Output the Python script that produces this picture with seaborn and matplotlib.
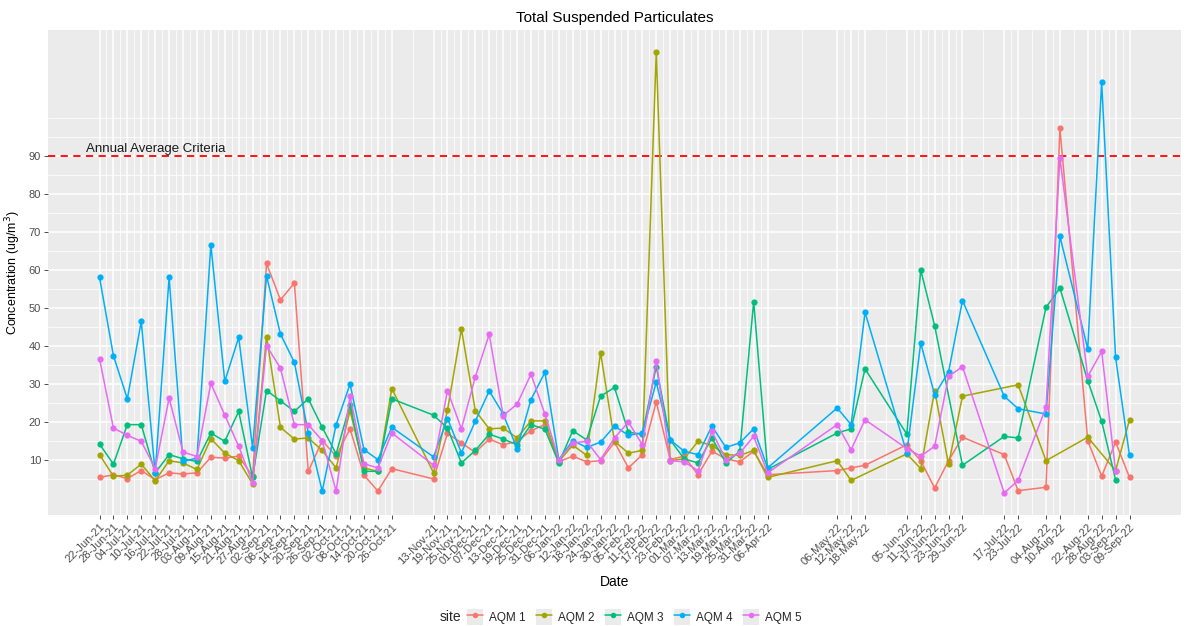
import matplotlib
matplotlib.use("Agg")
import matplotlib.pyplot as plt
from matplotlib.lines import Line2D
from matplotlib.patches import Patch
from matplotlib.legend_handler import HandlerTuple
import numpy as np
import pandas as pd
import seaborn as sns

# Sampling dates (1-in-6 day schedule, with gaps)
DATES = [
    "22-Jun-21", "28-Jun-21", "04-Jul-21", "10-Jul-21", "16-Jul-21", "22-Jul-21",
    "28-Jul-21", "03-Aug-21", "09-Aug-21", "15-Aug-21", "21-Aug-21", "27-Aug-21",
    "02-Sep-21", "08-Sep-21", "14-Sep-21", "20-Sep-21", "26-Sep-21", "02-Oct-21",
    "08-Oct-21", "14-Oct-21", "20-Oct-21", "26-Oct-21", "13-Nov-21", "19-Nov-21",
    "25-Nov-21", "01-Dec-21", "07-Dec-21", "13-Dec-21", "19-Dec-21", "25-Dec-21",
    "31-Dec-21", "06-Jan-22", "12-Jan-22", "18-Jan-22", "24-Jan-22", "30-Jan-22",
    "05-Feb-22", "11-Feb-22", "17-Feb-22", "23-Feb-22", "01-Mar-22", "07-Mar-22",
    "13-Mar-22", "19-Mar-22", "25-Mar-22", "31-Mar-22", "06-Apr-22", "06-May-22",
    "12-May-22", "18-May-22", "05-Jun-22", "11-Jun-22", "17-Jun-22", "23-Jun-22",
    "29-Jun-22", "17-Jul-22", "23-Jul-22", "04-Aug-22", "10-Aug-22", "22-Aug-22",
    "28-Aug-22", "03-Sep-22", "09-Sep-22",
]

AQM1 = [5.4, 6.1, 5.1, 7.2, 4.8, 6.6, 6.3, 6.6, 10.7, 10.5, 11.0, 5.7,
        61.8, 52.2, 56.6, 7.0, 15.1, 11.0, 18.2, 6.0, 1.8, 7.7, 5.0, 17.0,
        14.5, 12.0, 15.5, 14.0, 14.9, 17.7, 19.3, 9.5, 11.0, 9.5, 9.8, 14.7,
        7.9, 11.4, 25.3, 10.1, 11.0, 6.1, 12.3, 10.3, 9.5, 12.3, 6.1, 7.2,
        7.9, 8.6, 14.0, 9.8, 2.6, 9.8, 16.0, 11.4, 1.9, 2.8, 97.4, 15.1,
        5.7, 14.7, 5.4]
AQM2 = [11.4, 5.7, 6.0, 8.9, 4.5, 9.8, 9.2, 7.5, 15.6, 11.8, 9.8, 3.7,
        42.5, 18.6, 15.5, 15.8, 12.5, 7.9, 23.0, 7.9, 7.0, 28.8, 6.6, 23.1,
        44.5, 23.0, 18.2, 18.4, 15.8, 20.3, 20.3, 9.6, 13.9, 11.2, 38.3, 14.9,
        11.8, 12.5, 117.5, 9.8, 10.3, 14.9, 13.8, 11.4, 11.2, 12.5, 5.4, 9.8,
        4.6, None, 11.6, 7.7, 28.3, 8.8, 26.8, None, 29.8, 9.8, None, 16.0,
        None, 7.2, 20.6]
AQM3 = [14.2, 8.9, 19.3, 19.3, 6.6, 11.4, 10.3, 9.6, 17.1, 14.9, 22.8, 5.4,
        28.3, 25.6, 22.8, 26.1, 18.6, 11.6, 24.6, 7.0, 7.0, 26.1, 21.8, 18.4,
        9.2, 12.5, 16.8, 15.5, 14.0, 19.3, 18.1, 9.2, 17.7, 15.3, 26.8, 29.1,
        17.3, 16.8, 34.6, 15.3, 10.3, 9.2, 15.8, 9.2, 12.3, 51.7, 7.5, 17.1,
        18.2, 34.0, 16.8, 60.1, 45.4, None, 8.6, 16.2, 15.8, 50.2, 55.3, 30.9,
        20.2, 4.8, None]
AQM4 = [58.1, 37.5, 26.1, 46.5, 6.6, 58.1, 9.6, 10.5, 66.7, 30.7, 42.3, 13.2,
        58.5, 43.2, 35.7, 17.1, 1.8, 19.3, 30.0, 12.7, 10.1, 18.6, 10.8, 20.9,
        11.9, 20.2, 28.2, 22.1, 13.0, 25.9, 33.1, 10.1, 15.1, 13.3, 14.7, 18.9,
        16.5, 17.1, 30.5, 15.3, 12.3, 11.4, 18.9, 13.3, 14.5, 18.2, 7.9, 23.7,
        19.3, 48.9, 11.8, 40.8, 27.2, 33.2, 52.0, 26.8, 23.5, 22.1, 68.9, 39.3,
        109.5, 37.0, 11.2]
AQM5 = [36.7, 18.4, 16.5, 14.9, 7.7, 26.3, 12.1, 10.9, 30.2, 21.8, 13.6, 4.0,
        40.1, 34.2, 19.3, 19.3, 15.1, 1.8, 26.8, 9.0, 7.9, 17.1, 8.6, 28.3,
        18.2, 31.9, 43.1, 21.7, 24.7, 32.6, 22.1, 10.1, 14.5, 14.9, 10.1, 15.8,
        20.0, 14.0, 36.1, 9.8, 9.5, 7.2, 17.5, 10.1, 11.8, 16.2, 6.6, 19.3,
        12.7, 20.6, 13.0, 11.0, 13.6, 32.0, 34.6, 1.3, 4.6, 23.9, 89.6, 32.0,
        38.6, 7.0, None]

SITES = ["AQM 1", "AQM 2", "AQM 3", "AQM 4", "AQM 5"]
PALETTE = ["#F8766D", "#A3A500", "#00BF7D", "#00B0F6", "#E76BF3"]
CRITERIA = 90
CRITERIA_LABEL = "Annual Average Criteria"
Y_BREAKS = list(range(10, 100, 10))


def build_frame() -> pd.DataFrame:
    wide = pd.DataFrame(dict(zip(SITES, [AQM1, AQM2, AQM3, AQM4, AQM5])), dtype=float)
    wide["date"] = pd.to_datetime(DATES, format="%d-%b-%y")
    df = wide.melt(id_vars="date", var_name="site", value_name="tsp").dropna()
    return df


def main():
    df = build_frame()
    dates = pd.to_datetime(DATES, format="%d-%b-%y")

    sns.set_theme(style="darkgrid", rc={"axes.facecolor": "#EBEBEB"})
    plt.rcParams["font.family"] = ["Liberation Sans", "DejaVu Sans"]

    fig = plt.figure(figsize=(11.87, 6.26), dpi=100)
    W, H = 1187, 626
    ax = fig.add_axes([48 / W, 1 - 515 / H, (1181 - 48) / W, (515 - 30) / H])

    sns.lineplot(
        data=df, x="date", y="tsp", hue="site", hue_order=SITES,
        palette=PALETTE, marker="o", markersize=4.5, markeredgewidth=0,
        linewidth=1.1, estimator=None, legend=False, ax=ax, zorder=3,
    )

    # ggplot-like limits (5% expansion)
    x0, x1 = dates.min(), dates.max()
    pad = (x1 - x0) * 0.05
    ax.set_xlim(x0 - pad, x1 + pad)
    ymin, ymax = df["tsp"].min(), df["tsp"].max()
    ypad = (ymax - ymin) * 0.05
    ax.set_ylim(ymin - ypad, ymax + ypad)

    # grid: majors at sampling dates, minors halfway between
    ax.grid(False)
    mids = dates[:-1] + (dates[1:] - dates[:-1]) / 2
    for d in mids:
        ax.axvline(d, color="white", lw=0.55, zorder=0)
    for d in dates:
        ax.axvline(d, color="white", lw=1.1, zorder=0)
    for v in range(0, 101, 10):
        ax.axhline(v + 5 if v < 100 else v, color="white", lw=0.55, zorder=0)
    for v in Y_BREAKS:
        ax.axhline(v, color="white", lw=1.1, zorder=0)

    ax.axhline(CRITERIA, color="red", lw=1.3, ls=(0, (4, 3)), zorder=2)
    ax.text(dates[0] - pd.Timedelta(days=6), CRITERIA + 0.4, CRITERIA_LABEL,
            fontsize=9.5, color="#1a1a1a", ha="left", va="bottom")

    ax.set_xticks(dates)
    ax.set_xticklabels([d.strftime("%d-%b-%y") for d in dates], rotation=45,
                       ha="right", va="top", rotation_mode="anchor",
                       fontsize=8, color="#4D4D4D")
    ax.set_yticks(Y_BREAKS)
    ax.set_yticklabels([str(v) for v in Y_BREAKS], fontsize=8, color="#4D4D4D")
    ax.tick_params(axis="both", length=3, width=0.6, color="#333333", pad=2,
                   bottom=True, left=True)
    for s in ax.spines.values():
        s.set_visible(False)

    ax.set_xlabel("Date", fontsize=10, color="black", labelpad=6)
    ax.set_ylabel("Concentration (ug/m$^3$)", fontsize=9, color="black", labelpad=4)
    ax.set_title("Total Suspended Particulates", fontsize=11, color="black", pad=6)

    handles = [
        (Patch(facecolor="#EBEBEB", edgecolor="none"),
         Line2D([], [], color=c, marker="o", markersize=4, markeredgewidth=0, lw=1.1))
        for c in PALETTE
    ]
    fig.text(440 / W, 1 - 617 / H, "site", fontsize=10, ha="left", va="center")
    fig.legend(handles, SITES, handler_map={tuple: HandlerTuple(ndivide=1)},
               ncol=5, loc="center", bbox_to_anchor=(634 / W, 1 - 617 / H),
               frameon=False, fontsize=8.5, handlelength=1.4, handleheight=1.7,
               handletextpad=0.45, columnspacing=0.9, borderpad=0.2)

    fig.savefig("out.png", dpi=100)
    plt.close("all")


if __name__ == "__main__":
    main()
